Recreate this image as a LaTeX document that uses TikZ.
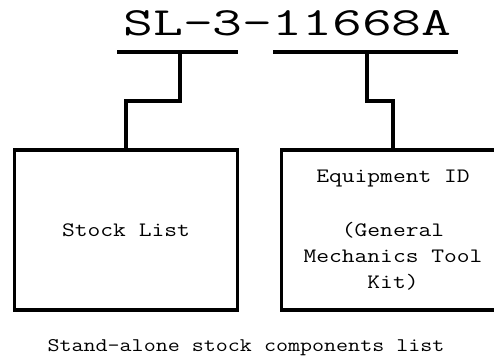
\documentclass[tikz,border=0pt]{standalone}
\usepackage{graphicx}
\newcommand{\widetext}[2]{\scalebox{#1}[1]{#2}}
\begin{document}
\begin{tikzpicture}[x=1pt,y=-1pt,
  wire/.style={line width=3.6pt,line cap=rect},
  boxnode/.style={draw,line width=3.8pt,minimum width=223pt,minimum height=160pt,
     inner sep=0pt,align=center,font=\ttfamily\fontsize{20.5}{26}\selectfont},
  titlenode/.style={font=\ttfamily\fontsize{40}{48}\selectfont,inner sep=0pt,anchor=base},
  capnode/.style={font=\ttfamily\fontsize{19.3}{24}\selectfont,inner sep=0pt,anchor=base}]
\useasboundingbox (0,0) rectangle (494,358);
\node[titlenode] (title) at (287.5,36) {\widetext{1.45}{SL-3-11668A}};
\coordinate (ulla) at (117,52);
\coordinate (ullb) at (238,52);
\coordinate (ulra) at (273,52);
\coordinate (ulrb) at (458,52);
\draw[line width=3.8pt] (ulla) -- (ullb);
\draw[line width=3.8pt] (ulra) -- (ulrb);
\node[boxnode] (stock) at (126,230) {\widetext{1.21}{Stock List}};
\node[boxnode] (equip) at (393,230) {\widetext{1.21}{\begin{tabular}{@{}c@{}}Equipment ID\\[28pt](General\\Mechanics Tool\\Kit)\end{tabular}}};
\coordinate (tl) at (180,52);
\coordinate (tr) at (367,52);
\coordinate (ml) at (180,101);
\coordinate (mr) at (367,101);
\draw[wire] (tl) -- (ml) -| (stock.north);
\draw[wire] (tr) -- (mr) -| (equip.north);
\node[capnode] (cap) at (246,351) {\widetext{1.21}{Stand-alone stock components list}};
\end{tikzpicture}
\end{document}
